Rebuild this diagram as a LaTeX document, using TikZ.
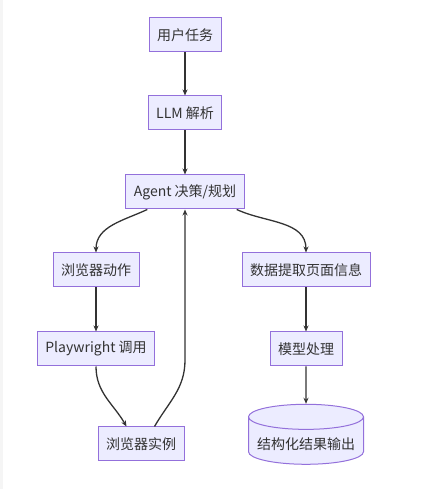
\documentclass[tikz,border=0pt]{standalone}
\usepackage{fontspec}
\setmainfont{Noto Sans CJK SC}
\usetikzlibrary{arrows.meta,shapes.geometric}
\definecolor{boxfill}{HTML}{ECECFF}
\definecolor{boxline}{HTML}{9370DB}
\definecolor{ink}{HTML}{333333}
\begin{document}
\begin{tikzpicture}[x=1pt, y=1pt, font=\fontsize{14pt}{16pt}\selectfont,
    every node/.style={draw=boxline, fill=boxfill, line width=1pt, text=ink, minimum height=34pt, inner xsep=8pt},
    cyl/.style={cylinder, shape border rotate=90, aspect=0.22, inner ysep=2pt, minimum width=115pt, minimum height=60pt},
    arr/.style={draw=ink, line width=1.3pt, -{Stealth[length=6pt,width=5pt]}}]
            \useasboundingbox (0,0) rectangle (425,489);
            \fill[gray!8] (0,0) rectangle (3,489);
            \node (n0) at (185,454) {用户任务};
            \node (n1) at (185,376) {LLM 解析};
            \node (n2) at (185,297) {Agent 决策/规划};
            \node (n3) at (96,219) {浏览器动作};
            \node (n4) at (306,219) {数据提取页面信息};
            \node (n5) at (96,140) {Playwright 调用};
            \node (n6) at (306,140) {模型处理};
            \node (n7) at (141,45) {浏览器实例};
            \node[cyl] (n8) at (306,45) {结构化结果输出};
            \coordinate (turn) at (185,129);
            \draw[arr] (n0) -- (n1);
            \draw[arr] (n1) -- (n2);
            \draw[arr] ([xshift=22pt]n2.south west) to[out=205, in=90] (n3.north);
            \draw[arr] ([xshift=-8pt]n2.south east) to[out=-25, in=90] (n4.north);
            \draw[arr] (n3) -- (n5);
            \draw[arr] (n5.south) to[out=-90, in=120] ([xshift=29pt]n7.north west);
            \draw[arr] ([xshift=-30pt]n7.north east) to[out=60, in=-90] (turn) -- (n2.south);
            \draw[arr] (n4) -- (n6);
            \draw[arr] (n6) -- (n8.north);
        \end{tikzpicture}
\end{document}
